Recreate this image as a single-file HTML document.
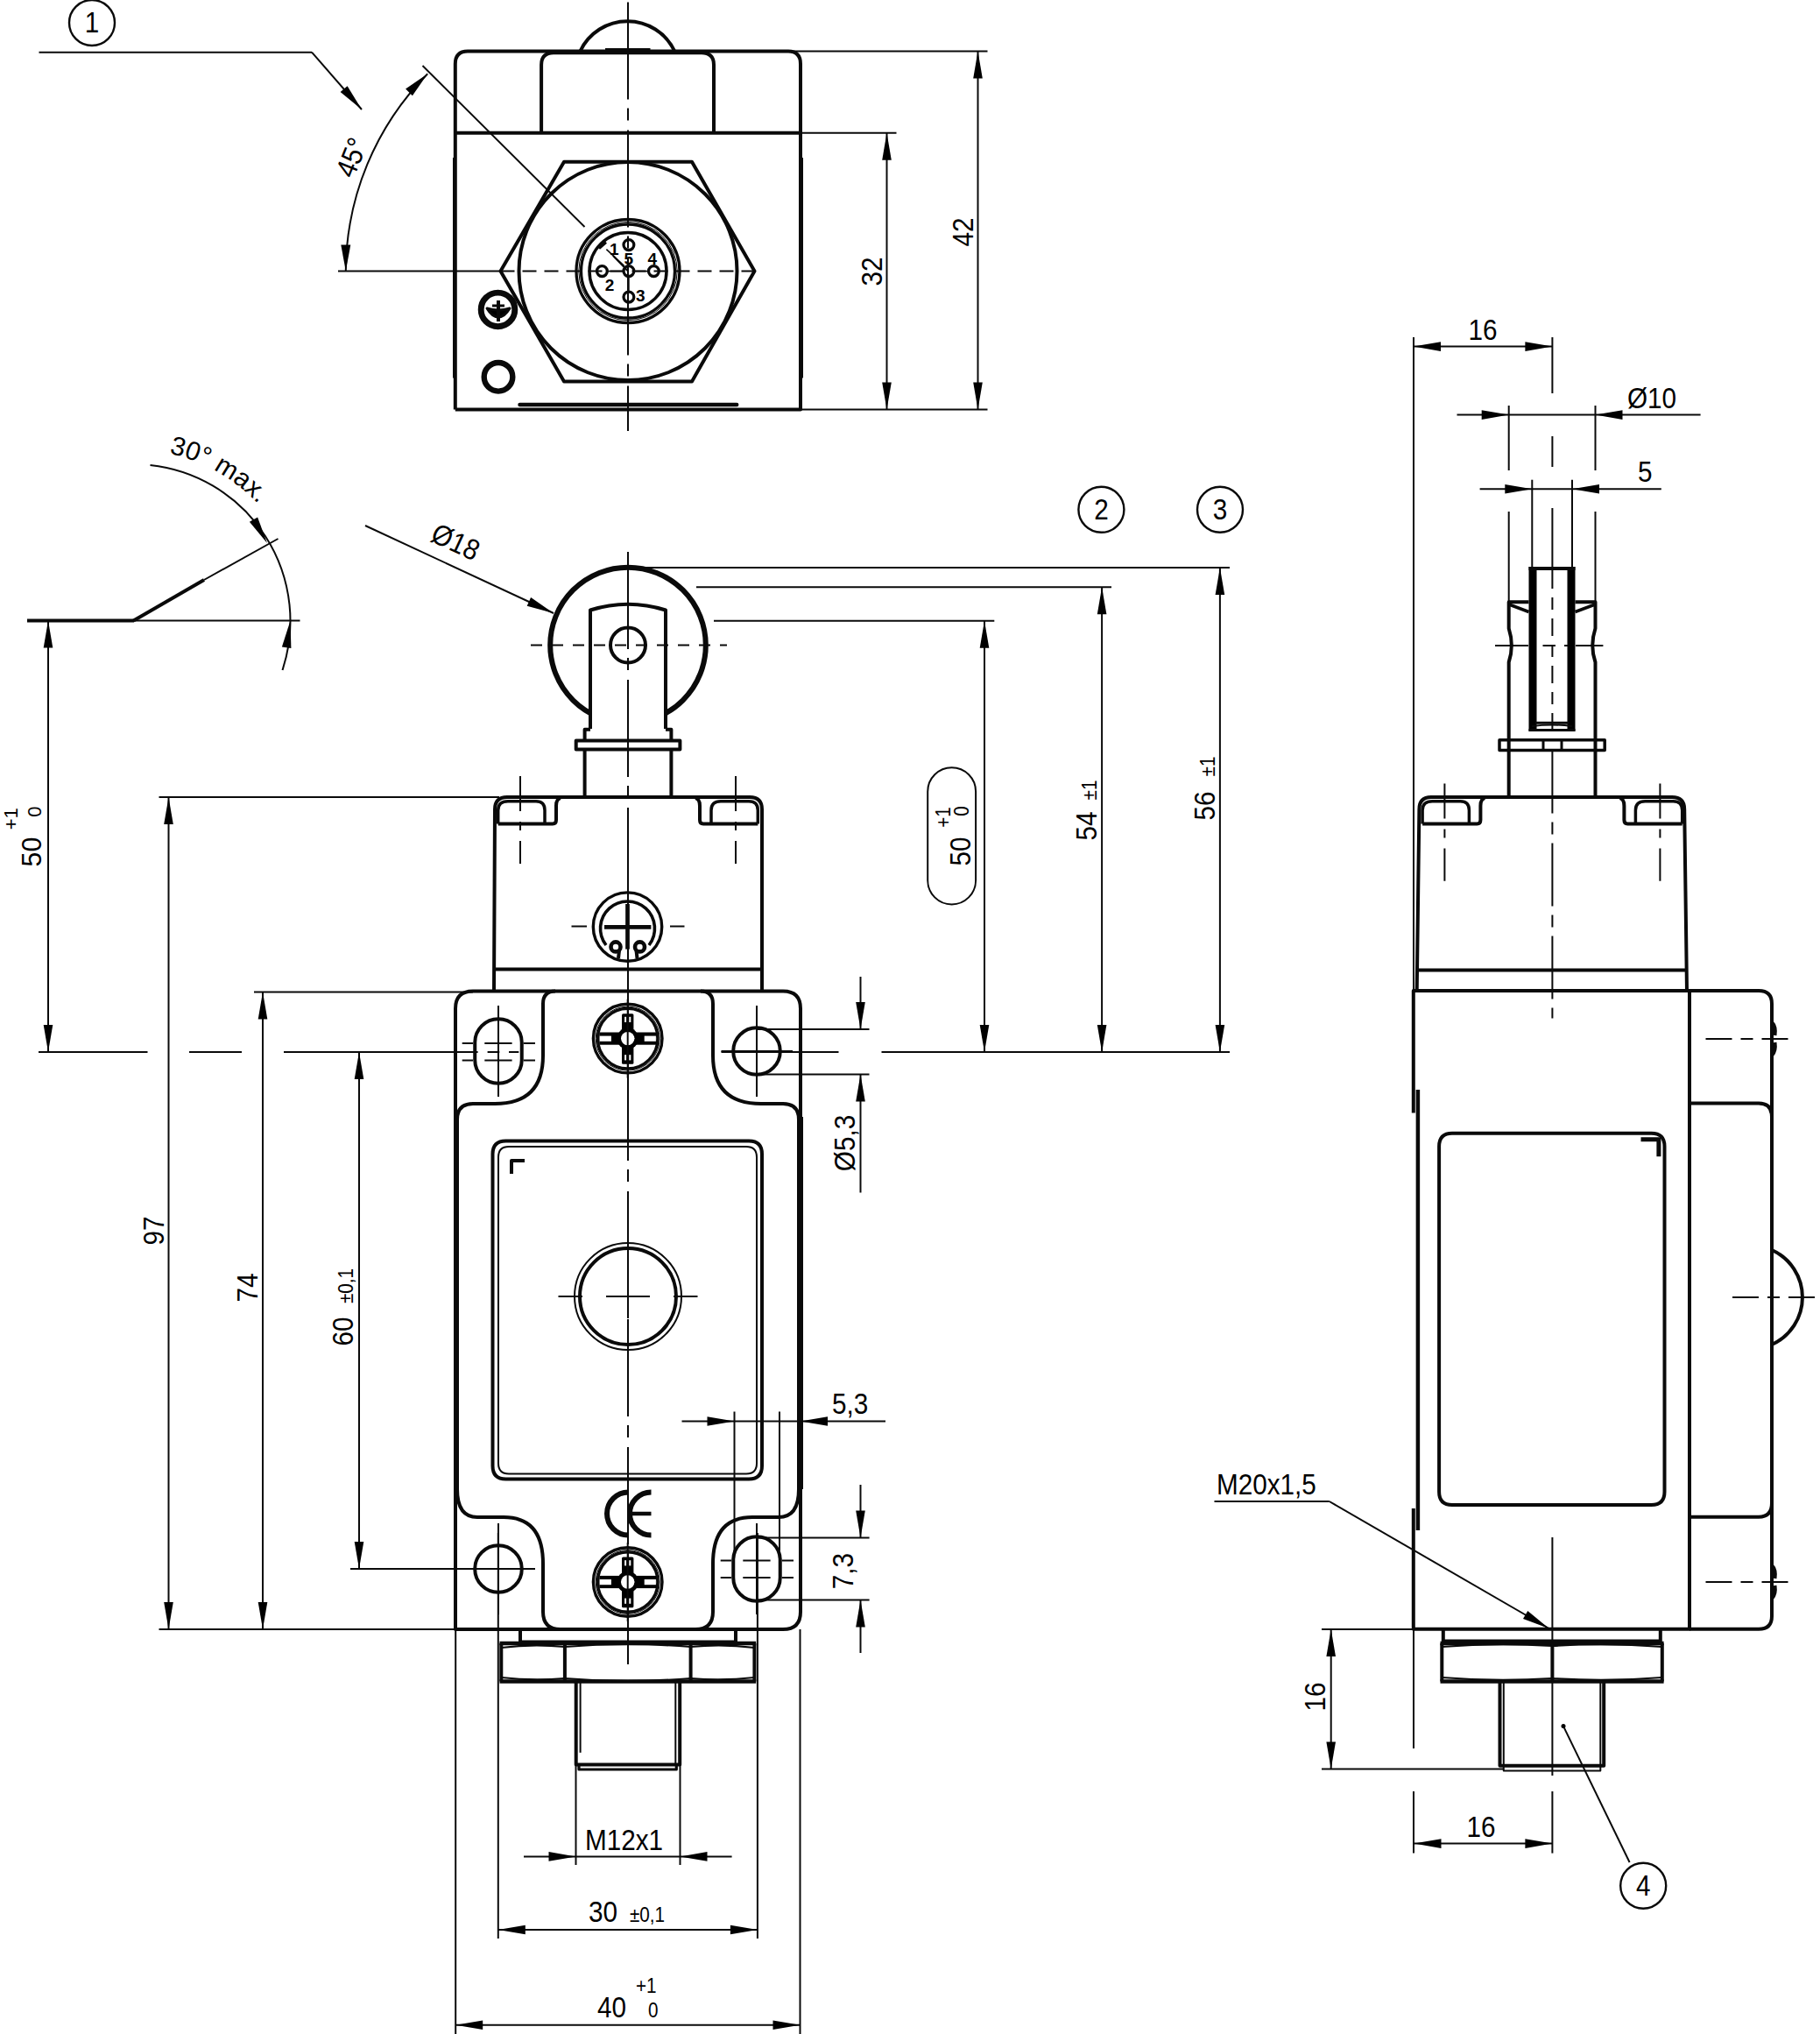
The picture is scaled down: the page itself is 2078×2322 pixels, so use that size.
<!DOCTYPE html>
<html><head><meta charset="utf-8"><style>
html,body{margin:0;padding:0;background:#fff;}
svg{display:block;}
text{font-family:"Liberation Sans",sans-serif;fill:#000;stroke:none;}
</style></head><body>
<svg width="2078" height="2322" viewBox="0 0 2078 2322" stroke="#0a0a0a" fill="none" stroke-linecap="butt" stroke-linejoin="round">
<rect x="0" y="0" width="2078" height="2322" fill="#fff" stroke="none"/>
<path d="M662.4,58.5 A59.6,59.6 0 0 1 770.3,58.5" stroke-width="4.0" fill="none" />
<line x1="691.0" y1="56.5" x2="742.5" y2="56.5" stroke-width="3" />
<path d="M519.8,467.5 L519.8,73 Q519.8,58.5 534,58.5 L900,58.5 Q914,58.5 914,73 L914,467.5 L519.8,467.5" stroke-width="4.0" fill="none" />
<path d="M618.1,151.8 L618.1,74 Q618.1,60.3 632,60.3 L801,60.3 Q815,60.3 815,74 L815,151.8" stroke-width="4.0" fill="none" />
<line x1="519.8" y1="151.8" x2="914.0" y2="151.8" stroke-width="4.0" />
<line x1="915.5" y1="180.0" x2="915.5" y2="431.5" stroke-width="3" />
<line x1="518.5" y1="180.0" x2="518.5" y2="431.5" stroke-width="3" />
<path d="M571.5,309.5 L644,184.8 L790,184.8 L861.5,309.5 L790,435.5 L644,435.5 Z" stroke-width="4.0" fill="none" />
<circle cx="717.0" cy="309.5" r="124.5" stroke-width="4.0" fill="none" />
<circle cx="717.0" cy="309.5" r="59.0" stroke-width="3.3" fill="none" />
<circle cx="717.0" cy="309.5" r="56.2" stroke-width="1" fill="none" />
<circle cx="717.0" cy="309.5" r="53.5" stroke-width="3.3" fill="none" />
<circle cx="717.0" cy="309.5" r="44.0" stroke-width="3.5" fill="none" />
<circle cx="717.9" cy="279.6" r="5.9" stroke-width="3.3" fill="none" />
<circle cx="687.4" cy="309.6" r="5.9" stroke-width="3.3" fill="none" />
<circle cx="746.4" cy="309.6" r="5.9" stroke-width="3.3" fill="none" />
<circle cx="717.9" cy="339.1" r="5.9" stroke-width="3.3" fill="none" />
<circle cx="717.9" cy="309.6" r="5.9" stroke-width="3.3" fill="none" />
<line x1="693.3" y1="309.6" x2="711.9" y2="309.6" stroke-width="1.6" />
<line x1="723.9" y1="309.6" x2="740.4" y2="309.6" stroke-width="1.6" />
<line x1="717.9" y1="315.5" x2="717.9" y2="333.2" stroke-width="1.6" />
<line x1="692.4" y1="284.6" x2="712.7" y2="303.6" stroke-width="1.6" />
<line x1="683.5" y1="283.0" x2="691.5" y2="276.0" stroke-width="4.5" />
<text transform="translate(701.3 291.0)" font-size="19" text-anchor="middle" font-weight="bold">1</text>
<text transform="translate(696.0 331.5)" font-size="19" text-anchor="middle" font-weight="bold">2</text>
<text transform="translate(731.3 344.0)" font-size="19" text-anchor="middle" font-weight="bold">3</text>
<text transform="translate(744.9 302.0)" font-size="19" text-anchor="middle" font-weight="bold">4</text>
<text transform="translate(717.7 302.0)" font-size="19" text-anchor="middle" font-weight="bold">5</text>
<circle cx="568.5" cy="353.4" r="19.3" stroke-width="6.9" fill="none" />
<path d="M556,352 Q569,356 582,352 Q576,362 569,362 Q562,362 556,352 Z" stroke-width="3" fill="#000" />
<line x1="569.0" y1="343.0" x2="569.0" y2="367.0" stroke-width="4" />
<line x1="562.0" y1="349.0" x2="576.0" y2="349.0" stroke-width="3" />
<circle cx="569.0" cy="430.3" r="16.3" stroke-width="6.4" fill="none" />
<line x1="593.5" y1="461.9" x2="841.2" y2="461.9" stroke-width="4.5" stroke-linecap="round"/>
<line x1="717.0" y1="2.4" x2="717.0" y2="492.0" stroke-width="2.0" stroke-dasharray="111 10 14 11" stroke-dashoffset="0"/>
<line x1="386.0" y1="309.5" x2="571.5" y2="309.5" stroke-width="2.0" />
<line x1="571.5" y1="309.5" x2="867.0" y2="309.5" stroke-width="2.0" stroke-dasharray="16 9" stroke-dashoffset="0"/>
<path d="M394.8,309.5 A322,322 0 0 1 488.2,84.2" stroke-width="2.0" fill="none" />
<path d="M394.8,309.5 L389.3,279.5 L400.3,279.5 Z" fill="#000" stroke="none"/>
<path d="M488.2,84.2 L470.9,109.3 L463.1,101.5 Z" fill="#000" stroke="none"/>
<text transform="translate(412.0 184.0) rotate(-68) scale(0.9 1)" font-size="33" text-anchor="middle" >45°</text>
<line x1="482.5" y1="75.0" x2="667.5" y2="259.0" stroke-width="2.0" />
<line x1="700.0" y1="292.0" x2="717.0" y2="309.5" stroke-width="2.0" />
<line x1="44.5" y1="59.7" x2="356.0" y2="59.7" stroke-width="2.0" />
<line x1="356.0" y1="59.7" x2="413.0" y2="125.0" stroke-width="2.0" />
<path d="M413.0,125.0 L388.6,105.1 L396.6,98.2 Z" fill="#000" stroke="none"/>
<circle cx="105.0" cy="26.0" r="26.0" stroke-width="2.4" fill="none" />
<text transform="translate(105.0 37.0) scale(0.9 1)" font-size="33" text-anchor="middle" >1</text>
<line x1="914.0" y1="151.8" x2="1023.5" y2="151.8" stroke-width="2.0" />
<line x1="900.0" y1="58.5" x2="1127.5" y2="58.5" stroke-width="2.0" />
<line x1="914.0" y1="467.5" x2="1127.5" y2="467.5" stroke-width="2.0" />
<line x1="1012.5" y1="151.8" x2="1012.5" y2="467.5" stroke-width="2.0" />
<path d="M1012.5,151.8 L1017.8,182.8 L1007.2,182.8 Z" fill="#000" stroke="none"/>
<path d="M1012.5,467.5 L1007.2,436.5 L1017.8,436.5 Z" fill="#000" stroke="none"/>
<line x1="1116.5" y1="58.5" x2="1116.5" y2="467.5" stroke-width="2.0" />
<path d="M1116.5,58.5 L1121.8,89.5 L1111.2,89.5 Z" fill="#000" stroke="none"/>
<path d="M1116.5,467.5 L1111.2,436.5 L1121.8,436.5 Z" fill="#000" stroke="none"/>
<text transform="translate(1007.0 310.0) rotate(-90) scale(0.9 1)" font-size="33" text-anchor="middle" >32</text>
<text transform="translate(1111.0 265.0) rotate(-90) scale(0.9 1)" font-size="33" text-anchor="middle" >42</text>
<circle cx="717.0" cy="736.5" r="88.8" stroke-width="6" fill="none" />
<path d="M674,832 L674,696.5 Q717,683 760,696.5 L760,832" stroke-width="4.0" fill="#fff" />
<circle cx="717.0" cy="736.5" r="20.0" stroke-width="4.0" fill="none" />
<path d="M674,832.7 L667.6,832.7 L667.6,845.5 M760,832.7 L766.4,832.7 L766.4,845.5" stroke-width="4.0" fill="none" />
<path d="M657.7,845.5 L776.4,845.5 L776.4,855.4 L657.7,855.4 Z" stroke-width="4.0" fill="none" />
<path d="M667.6,855.4 L667.6,910 M766.4,855.4 L766.4,910" stroke-width="4.0" fill="none" />
<line x1="717.0" y1="630.0" x2="717.0" y2="1900.0" stroke-width="2.0" stroke-dasharray="111 10 14 11" stroke-dashoffset="0"/>
<line x1="606.0" y1="736.5" x2="830.0" y2="736.5" stroke-width="2.0" stroke-dasharray="13 11" stroke-dashoffset="0"/>
<path d="M564,1131.5 L565,924 Q565,910 579,910 L856,910 Q870,910 870,924 L870,1131.5" stroke-width="4.0" fill="none" />
<line x1="564.0" y1="1106.5" x2="870.0" y2="1106.5" stroke-width="4.0" />
<path d="M568.7,940.5 L631,940.5 Q635,940.5 635,936 L635,920 Q635,912 640,911" stroke-width="4.0" fill="none" />
<path d="M865.3,940.5 L803,940.5 Q799,940.5 799,936 L799,920 Q799,912 794,911" stroke-width="4.0" fill="none" />
<path d="M568.7,940.5 L568.7,925 Q568.7,914.8 580,914.8 L612,914.8 Q622,914.8 622,925 L622,940.5" stroke-width="3.5" fill="none" />
<path d="M812,940.5 L812,925 Q812,914.8 823,914.8 L855,914.8 Q865.3,914.8 865.3,925 L865.3,940.5" stroke-width="3.5" fill="none" />
<line x1="594.0" y1="886.0" x2="594.0" y2="986.0" stroke-width="2.0" stroke-dasharray="40 12 10 12" stroke-dashoffset="0"/>
<line x1="840.0" y1="886.0" x2="840.0" y2="986.0" stroke-width="2.0" stroke-dasharray="40 12 10 12" stroke-dashoffset="0"/>
<circle cx="716.5" cy="1058.1" r="39.2" stroke-width="3.4" fill="none" />
<path d="M692,1079 A31,31 0 1 1 741,1079" stroke-width="3.6" fill="none" />
<circle cx="703.0" cy="1080.9" r="5.5" stroke-width="4.6" fill="none" />
<circle cx="730.5" cy="1080.9" r="5.5" stroke-width="4.6" fill="none" />
<line x1="707.0" y1="1085.0" x2="706.0" y2="1094.0" stroke-width="4" />
<line x1="726.5" y1="1085.0" x2="727.5" y2="1094.0" stroke-width="4" />
<line x1="690.0" y1="1058.4" x2="743.4" y2="1058.4" stroke-width="4.7" />
<line x1="716.5" y1="1032.0" x2="716.5" y2="1083.6" stroke-width="4.7" />
<line x1="652.5" y1="1057.5" x2="670.0" y2="1057.5" stroke-width="2.0" />
<line x1="765.0" y1="1057.5" x2="781.5" y2="1057.5" stroke-width="2.0" />
<path d="M520,1860 L520,1151.5 Q520,1131.5 540,1131.5 L894,1131.5 Q914,1131.5 914,1151.5 L914,1840 Q914,1860 894,1860 Z" stroke-width="4.0" fill="none" />
<path d="M634,1131.5 Q620,1131.5 620,1146 L620,1205 Q620,1260 565,1260 L540,1260 Q522,1260 522,1278 L522,1700 Q522,1732 545,1732 L575,1732 Q620,1732 620,1785 L620,1840 Q620,1860 640,1860" stroke-width="4.0" fill="none" />
<path d="M800,1131.5 Q814,1131.5 814,1146 L814,1205 Q814,1260 869,1260 L894,1260 Q912,1260 912,1278 L912,1700 Q912,1732 889,1732 L859,1732 Q814,1732 814,1785 L814,1840 Q814,1860 794,1860" stroke-width="4.0" fill="none" />
<path d="M542.25,1190 A26.75,26.75 0 0 1 595.75,1190 L595.75,1210 A26.75,26.75 0 0 1 542.25,1210 Z" stroke-width="4.0" fill="none" />
<circle cx="864.0" cy="1200.0" r="26.8" stroke-width="4.0" fill="none" />
<circle cx="569.0" cy="1791.0" r="26.8" stroke-width="4.0" fill="none" />
<path d="M837.25,1781 A26.75,26.75 0 0 1 890.75,1781 L890.75,1801 A26.75,26.75 0 0 1 837.25,1801 Z" stroke-width="4.0" fill="none" />
<line x1="569.0" y1="1148.0" x2="569.0" y2="1252.0" stroke-width="2.0" />
<line x1="864.0" y1="1148.0" x2="864.0" y2="1252.0" stroke-width="2.0" />
<line x1="569.0" y1="1739.0" x2="569.0" y2="1843.0" stroke-width="2.0" />
<line x1="864.0" y1="1739.0" x2="864.0" y2="1843.0" stroke-width="2.0" />
<line x1="527.7" y1="1191.0" x2="540.0" y2="1191.0" stroke-width="2.0" />
<line x1="553.3" y1="1191.0" x2="584.6" y2="1191.0" stroke-width="2.0" />
<line x1="597.8" y1="1191.0" x2="611.0" y2="1191.0" stroke-width="2.0" />
<line x1="527.7" y1="1210.5" x2="540.0" y2="1210.5" stroke-width="2.0" />
<line x1="553.3" y1="1210.5" x2="584.6" y2="1210.5" stroke-width="2.0" />
<line x1="597.8" y1="1210.5" x2="611.0" y2="1210.5" stroke-width="2.0" />
<line x1="822.7" y1="1781.5" x2="835.0" y2="1781.5" stroke-width="2.0" />
<line x1="848.3" y1="1781.5" x2="879.6" y2="1781.5" stroke-width="2.0" />
<line x1="892.8" y1="1781.5" x2="906.0" y2="1781.5" stroke-width="2.0" />
<line x1="822.7" y1="1801.0" x2="835.0" y2="1801.0" stroke-width="2.0" />
<line x1="848.3" y1="1801.0" x2="879.6" y2="1801.0" stroke-width="2.0" />
<line x1="892.8" y1="1801.0" x2="906.0" y2="1801.0" stroke-width="2.0" />
<line x1="823.5" y1="1200.0" x2="905.0" y2="1200.0" stroke-width="2.0" />
<line x1="527.0" y1="1791.0" x2="611.0" y2="1791.0" stroke-width="2.0" />
<circle cx="716.7" cy="1185.6" r="39.3" stroke-width="3.4" fill="none" />
<circle cx="716.7" cy="1185.6" r="36.5" stroke-width="1" fill="none" />
<circle cx="716.7" cy="1185.6" r="34.3" stroke-width="3.4" fill="none" />
<rect x="710.0" y="1157.1999999999998" width="13.4" height="57.6" rx="1.5" fill="#000" stroke="none"/>
<rect x="684.3000000000001" y="1178.5" width="65" height="14.2" fill="#000" stroke="none"/>
<circle cx="716.7" cy="1185.6" r="12.3" stroke-width="0" fill="#000" />
<circle cx="716.7" cy="1185.6" r="7.7" stroke-width="0" fill="#fff" />
<rect x="684.7" y="1182.6" width="13.2" height="6.2" fill="#fff" stroke="none"/>
<rect x="735.7" y="1182.6" width="13.2" height="6.2" fill="#fff" stroke="none"/>
<rect x="713.1" y="1160.8" width="2" height="6.2" fill="#fff" stroke="none"/>
<rect x="718.3000000000001" y="1160.8" width="2" height="6.2" fill="#fff" stroke="none"/>
<rect x="713.1" y="1204.1999999999998" width="2" height="6.2" fill="#fff" stroke="none"/>
<rect x="718.3000000000001" y="1204.1999999999998" width="2" height="6.2" fill="#fff" stroke="none"/>
<line x1="709.0" y1="1185.6" x2="714.7" y2="1185.6" stroke-width="1" stroke="#fff"/>
<line x1="718.7" y1="1185.6" x2="724.4" y2="1185.6" stroke-width="1" stroke="#fff"/>
<line x1="716.7" y1="1140.6" x2="716.7" y2="1230.6" stroke-width="2" />
<circle cx="716.7" cy="1806.0" r="39.3" stroke-width="3.4" fill="none" />
<circle cx="716.7" cy="1806.0" r="36.5" stroke-width="1" fill="none" />
<circle cx="716.7" cy="1806.0" r="34.3" stroke-width="3.4" fill="none" />
<rect x="710.0" y="1777.6" width="13.4" height="57.6" rx="1.5" fill="#000" stroke="none"/>
<rect x="684.3000000000001" y="1798.9" width="65" height="14.2" fill="#000" stroke="none"/>
<circle cx="716.7" cy="1806.0" r="12.3" stroke-width="0" fill="#000" />
<circle cx="716.7" cy="1806.0" r="7.7" stroke-width="0" fill="#fff" />
<rect x="684.7" y="1803" width="13.2" height="6.2" fill="#fff" stroke="none"/>
<rect x="735.7" y="1803" width="13.2" height="6.2" fill="#fff" stroke="none"/>
<rect x="713.1" y="1781.2" width="2" height="6.2" fill="#fff" stroke="none"/>
<rect x="718.3000000000001" y="1781.2" width="2" height="6.2" fill="#fff" stroke="none"/>
<rect x="713.1" y="1824.6" width="2" height="6.2" fill="#fff" stroke="none"/>
<rect x="718.3000000000001" y="1824.6" width="2" height="6.2" fill="#fff" stroke="none"/>
<line x1="709.0" y1="1806.0" x2="714.7" y2="1806.0" stroke-width="1" stroke="#fff"/>
<line x1="718.7" y1="1806.0" x2="724.4" y2="1806.0" stroke-width="1" stroke="#fff"/>
<line x1="716.7" y1="1761.0" x2="716.7" y2="1851.0" stroke-width="2" />
<path d="M577.5,1302.5 L855,1302.5 Q870,1302.5 870,1317.5 L870,1673.5 Q870,1688.5 855,1688.5 L577.5,1688.5 Q562.5,1688.5 562.5,1673.5 L562.5,1317.5 Q562.5,1302.5 577.5,1302.5 Z" stroke-width="4.0" fill="none" />
<path d="M581,1309 L852,1309 Q864,1309 864,1321 L864,1670.5 Q864,1682.5 852,1682.5 L581,1682.5 Q569,1682.5 569,1670.5 L569,1321 Q569,1309 581,1309 Z" stroke-width="2.0" fill="none" />
<path d="M584,1340 L584,1325 L599,1325" stroke-width="4" fill="none" />
<circle cx="717.0" cy="1480.0" r="61.0" stroke-width="2.0" fill="none" />
<circle cx="717.0" cy="1480.0" r="55.0" stroke-width="4.0" fill="none" />
<line x1="637.5" y1="1480.0" x2="665.0" y2="1480.0" stroke-width="2.0" />
<line x1="692.0" y1="1480.0" x2="742.0" y2="1480.0" stroke-width="2.0" />
<line x1="769.0" y1="1480.0" x2="796.5" y2="1480.0" stroke-width="2.0" />
<line x1="717.0" y1="1455.0" x2="717.0" y2="1505.0" stroke-width="2.0" />
<path d="M717.5,1703.5 A24.5,24.5 0 0 0 717.5,1752.5" stroke-width="6" fill="none" />
<path d="M743.5,1703.5 A24.5,24.5 0 0 0 743.5,1752.5" stroke-width="6" fill="none" />
<line x1="720.0" y1="1728.0" x2="743.5" y2="1728.0" stroke-width="4.5" />
<line x1="915.5" y1="1275.0" x2="915.5" y2="1700.0" stroke-width="3" />
<path d="M594,1860 L594,1876 M840,1860 L840,1876" stroke-width="4.0" fill="none" />
<line x1="570.5" y1="1876.0" x2="863.2" y2="1876.0" stroke-width="4.5" />
<line x1="570.5" y1="1919.5" x2="863.2" y2="1919.5" stroke-width="4.5" />
<line x1="572.3" y1="1876.0" x2="572.3" y2="1919.5" stroke-width="4" />
<line x1="861.4" y1="1876.0" x2="861.4" y2="1919.5" stroke-width="4" />
<path d="M572.3,1881 Q608,1876.5 644.9,1880 Q716.5,1874 788.6,1880 Q825,1876.5 861.4,1881" stroke-width="2.2" fill="none" />
<path d="M572.3,1915 Q608,1919 644.9,1916 Q716.5,1922 788.6,1916 Q825,1919 861.4,1915" stroke-width="2.2" fill="none" />
<line x1="594.0" y1="1874.5" x2="840.4" y2="1874.5" stroke-width="4.0" />
<line x1="644.9" y1="1877.0" x2="644.9" y2="1919.0" stroke-width="4.0" />
<line x1="788.6" y1="1877.0" x2="788.6" y2="1919.0" stroke-width="4.0" />
<path d="M657.7,1920 L657.7,2014.5 L776.2,2014.5 L776.2,1920" stroke-width="4.0" fill="none" />
<path d="M661,2015.4 L661,2020 L772.3,2020 L772.3,2015.4" stroke-width="3.2" fill="none" />
<line x1="662.6" y1="1920.0" x2="662.6" y2="2000.8" stroke-width="2.0" />
<line x1="771.3" y1="1920.0" x2="771.3" y2="2014.5" stroke-width="2.0" />
<line x1="31.0" y1="708.5" x2="153.0" y2="708.5" stroke-width="4.0" />
<line x1="153.0" y1="708.5" x2="342.5" y2="708.5" stroke-width="2.0" />
<line x1="152.5" y1="708.5" x2="233.0" y2="662.0" stroke-width="4.0" />
<line x1="233.0" y1="662.0" x2="317.5" y2="615.0" stroke-width="2.0" />
<path d="M171.5,531 A179,179 0 0 1 322.5,765" stroke-width="2.0" fill="none" />
<path d="M305.0,620.0 L284.9,595.8 L294.1,590.5 Z" fill="#000" stroke="none"/>
<path d="M331.5,708.5 L332.4,739.9 L321.9,738.5 Z" fill="#000" stroke="none"/>
<path id="arc30" d="M193,517.8 A195,195 0 0 1 335.7,641.8" stroke="none"/>
<text font-size="30"><textPath href="#arc30">30° max.</textPath></text>
<line x1="55.0" y1="708.5" x2="55.0" y2="1201.0" stroke-width="2.0" />
<path d="M55.0,708.5 L60.3,739.5 L49.7,739.5 Z" fill="#000" stroke="none"/>
<path d="M55.0,1201.0 L49.7,1170.0 L60.3,1170.0 Z" fill="#000" stroke="none"/>
<text transform="translate(47.3 972.6) rotate(-90) scale(0.95 1)" font-size="32" text-anchor="middle" >50</text>
<text transform="translate(20.1 934.8) rotate(-90)" font-size="22" text-anchor="middle" >+1</text>
<text transform="translate(47.3 926.5) rotate(-90)" font-size="22" text-anchor="middle" >0</text>
<line x1="44.0" y1="1201.0" x2="168.5" y2="1201.0" stroke-width="2.0" />
<line x1="216.0" y1="1201.0" x2="276.0" y2="1201.0" stroke-width="2.0" />
<line x1="324.0" y1="1201.0" x2="545.6" y2="1201.0" stroke-width="2.0" />
<line x1="556.6" y1="1201.0" x2="570.3" y2="1201.0" stroke-width="2.0" />
<line x1="581.0" y1="1201.0" x2="592.3" y2="1201.0" stroke-width="2.0" />
<line x1="1006.5" y1="1201.0" x2="1404.0" y2="1201.0" stroke-width="2.0" />
<line x1="823.5" y1="1201.0" x2="957.5" y2="1201.0" stroke-width="2.0" />
<line x1="417.0" y1="600.0" x2="632.0" y2="700.0" stroke-width="2.0" />
<path d="M632.0,700.0 L601.7,691.7 L606.1,682.1 Z" fill="#000" stroke="none"/>
<text transform="translate(490.0 617.0) rotate(25) scale(0.9 1)" font-size="33" text-anchor="start" >Ø18</text>
<line x1="716.0" y1="648.0" x2="1404.0" y2="648.0" stroke-width="2.0" />
<line x1="795.0" y1="670.2" x2="1269.0" y2="670.2" stroke-width="2.0" />
<line x1="815.0" y1="708.8" x2="1135.3" y2="708.8" stroke-width="2.0" />
<line x1="1124.0" y1="708.8" x2="1124.0" y2="1201.0" stroke-width="2.0" />
<path d="M1124.0,708.8 L1129.3,739.8 L1118.7,739.8 Z" fill="#000" stroke="none"/>
<path d="M1124.0,1201.0 L1118.7,1170.0 L1129.3,1170.0 Z" fill="#000" stroke="none"/>
<line x1="1258.1" y1="670.2" x2="1258.1" y2="1201.0" stroke-width="2.0" />
<path d="M1258.1,670.2 L1263.4,701.2 L1252.8,701.2 Z" fill="#000" stroke="none"/>
<path d="M1258.1,1201.0 L1252.8,1170.0 L1263.4,1170.0 Z" fill="#000" stroke="none"/>
<line x1="1392.9" y1="648.0" x2="1392.9" y2="1201.0" stroke-width="2.0" />
<path d="M1392.9,648.0 L1398.2,679.0 L1387.6,679.0 Z" fill="#000" stroke="none"/>
<path d="M1392.9,1201.0 L1387.6,1170.0 L1398.2,1170.0 Z" fill="#000" stroke="none"/>
<path d="M1059.2,903.7 A27.45,27.45 0 0 1 1114.1,903.7 L1114.1,1005 A27.45,27.45 0 0 1 1059.2,1005 Z" stroke-width="2.0" fill="none" />
<text transform="translate(1108.0 972.0) rotate(-90) scale(0.9 1)" font-size="33" text-anchor="middle" >50</text>
<text transform="translate(1085.0 933.0) rotate(-90) scale(0.9 1)" font-size="23" text-anchor="middle" >+1</text>
<text transform="translate(1106.0 926.0) rotate(-90) scale(0.9 1)" font-size="23" text-anchor="middle" >0</text>
<text transform="translate(1252.0 943.0) rotate(-90) scale(0.9 1)" font-size="33" text-anchor="middle" >54</text>
<text transform="translate(1252.0 902.0) rotate(-90) scale(0.9 1)" font-size="23" text-anchor="middle" >±1</text>
<text transform="translate(1387.0 920.0) rotate(-90) scale(0.9 1)" font-size="33" text-anchor="middle" >56</text>
<text transform="translate(1387.0 875.0) rotate(-90) scale(0.9 1)" font-size="23" text-anchor="middle" >±1</text>
<circle cx="1257.4" cy="581.8" r="26.0" stroke-width="2.4" fill="none" />
<text transform="translate(1257.4 592.8) scale(0.9 1)" font-size="33" text-anchor="middle" >2</text>
<circle cx="1393.0" cy="581.8" r="26.0" stroke-width="2.4" fill="none" />
<text transform="translate(1393.0 592.8) scale(0.9 1)" font-size="33" text-anchor="middle" >3</text>
<line x1="181.5" y1="910.0" x2="570.0" y2="910.0" stroke-width="2.0" />
<line x1="290.0" y1="1132.5" x2="540.0" y2="1132.5" stroke-width="2.0" />
<line x1="400.0" y1="1791.0" x2="541.5" y2="1791.0" stroke-width="2.0" />
<line x1="181.5" y1="1860.0" x2="520.0" y2="1860.0" stroke-width="2.0" />
<line x1="192.5" y1="910.0" x2="192.5" y2="1860.0" stroke-width="2.0" />
<path d="M192.5,910.0 L197.8,941.0 L187.2,941.0 Z" fill="#000" stroke="none"/>
<path d="M192.5,1860.0 L187.2,1829.0 L197.8,1829.0 Z" fill="#000" stroke="none"/>
<line x1="300.0" y1="1132.5" x2="300.0" y2="1860.0" stroke-width="2.0" />
<path d="M300.0,1132.5 L305.3,1163.5 L294.7,1163.5 Z" fill="#000" stroke="none"/>
<path d="M300.0,1860.0 L294.7,1829.0 L305.3,1829.0 Z" fill="#000" stroke="none"/>
<line x1="410.0" y1="1201.0" x2="410.0" y2="1791.0" stroke-width="2.0" />
<path d="M410.0,1201.0 L415.3,1232.0 L404.7,1232.0 Z" fill="#000" stroke="none"/>
<path d="M410.0,1791.0 L404.7,1760.0 L415.3,1760.0 Z" fill="#000" stroke="none"/>
<text transform="translate(187.0 1405.0) rotate(-90) scale(0.9 1)" font-size="33" text-anchor="middle" >97</text>
<text transform="translate(294.0 1470.0) rotate(-90) scale(0.9 1)" font-size="33" text-anchor="middle" >74</text>
<text transform="translate(403.0 1520.0) rotate(-90) scale(0.9 1)" font-size="33" text-anchor="middle" >60</text>
<text transform="translate(403.0 1468.0) rotate(-90) scale(0.9 1)" font-size="23" text-anchor="middle" >±0,1</text>
<line x1="865.0" y1="1175.0" x2="992.5" y2="1175.0" stroke-width="2.0" />
<line x1="865.0" y1="1226.5" x2="992.5" y2="1226.5" stroke-width="2.0" />
<line x1="982.5" y1="1115.0" x2="982.5" y2="1175.0" stroke-width="2.0" />
<path d="M982.5,1175.0 L977.2,1144.0 L987.8,1144.0 Z" fill="#000" stroke="none"/>
<line x1="982.5" y1="1226.5" x2="982.5" y2="1361.5" stroke-width="2.0" />
<path d="M982.5,1226.5 L987.8,1257.5 L977.2,1257.5 Z" fill="#000" stroke="none"/>
<text transform="translate(976.0 1305.0) rotate(-90) scale(0.9 1)" font-size="33" text-anchor="middle" >Ø5,3</text>
<line x1="865.6" y1="1755.6" x2="992.6" y2="1755.6" stroke-width="2.0" />
<line x1="865.6" y1="1826.5" x2="992.6" y2="1826.5" stroke-width="2.0" />
<line x1="982.5" y1="1695.0" x2="982.5" y2="1755.6" stroke-width="2.0" />
<path d="M982.5,1755.6 L977.2,1724.6 L987.8,1724.6 Z" fill="#000" stroke="none"/>
<line x1="982.5" y1="1826.5" x2="982.5" y2="1887.0" stroke-width="2.0" />
<path d="M982.5,1826.5 L987.8,1857.5 L977.2,1857.5 Z" fill="#000" stroke="none"/>
<text transform="translate(974.0 1793.5) rotate(-90) scale(0.9 1)" font-size="33" text-anchor="middle" >7,3</text>
<line x1="838.5" y1="1611.5" x2="838.5" y2="1772.0" stroke-width="2.0" />
<line x1="890.0" y1="1611.5" x2="890.0" y2="1770.0" stroke-width="2.0" />
<line x1="778.5" y1="1622.5" x2="1011.0" y2="1622.5" stroke-width="2.0" />
<path d="M838.5,1622.5 L807.5,1627.8 L807.5,1617.2 Z" fill="#000" stroke="none"/>
<path d="M914.0,1622.5 L945.0,1617.2 L945.0,1627.8 Z" fill="#000" stroke="none"/>
<text transform="translate(950.0 1614.0) scale(0.9 1)" font-size="33" text-anchor="start" >5,3</text>
<line x1="657.5" y1="2015.0" x2="657.5" y2="2129.0" stroke-width="2.0" />
<line x1="776.5" y1="2015.0" x2="776.5" y2="2129.0" stroke-width="2.0" />
<line x1="598.0" y1="2119.4" x2="835.6" y2="2119.4" stroke-width="2.0" />
<path d="M657.5,2119.4 L626.5,2124.7 L626.5,2114.1 Z" fill="#000" stroke="none"/>
<path d="M776.5,2119.4 L807.5,2114.1 L807.5,2124.7 Z" fill="#000" stroke="none"/>
<text transform="translate(668.0 2112.0) scale(0.9 1)" font-size="33" text-anchor="start" >M12x1</text>
<line x1="568.8" y1="1750.0" x2="568.8" y2="2213.0" stroke-width="2.0" />
<line x1="864.9" y1="1750.0" x2="864.9" y2="2213.0" stroke-width="2.0" />
<line x1="568.8" y1="2203.0" x2="864.9" y2="2203.0" stroke-width="2.0" />
<path d="M568.8,2203.0 L599.8,2197.7 L599.8,2208.3 Z" fill="#000" stroke="none"/>
<path d="M864.9,2203.0 L833.9,2208.3 L833.9,2197.7 Z" fill="#000" stroke="none"/>
<text transform="translate(672.0 2194.0) scale(0.9 1)" font-size="33" text-anchor="start" >30</text>
<text transform="translate(719.0 2194.0) scale(0.9 1)" font-size="23" text-anchor="start" >±0,1</text>
<line x1="520.2" y1="1860.0" x2="520.2" y2="2322.0" stroke-width="2.0" />
<line x1="913.5" y1="1860.0" x2="913.5" y2="2322.0" stroke-width="2.0" />
<line x1="520.2" y1="2311.7" x2="913.5" y2="2311.7" stroke-width="2.0" />
<path d="M520.2,2311.7 L551.2,2306.4 L551.2,2317.0 Z" fill="#000" stroke="none"/>
<path d="M913.5,2311.7 L882.5,2317.0 L882.5,2306.4 Z" fill="#000" stroke="none"/>
<text transform="translate(682.0 2303.0) scale(0.9 1)" font-size="33" text-anchor="start" >40</text>
<text transform="translate(726.0 2275.0) scale(0.9 1)" font-size="23" text-anchor="start" >+1</text>
<text transform="translate(740.0 2303.0) scale(0.9 1)" font-size="23" text-anchor="start" >0</text>
<line x1="1614.0" y1="385.0" x2="1614.0" y2="1131.0" stroke-width="2.0" />
<line x1="1614.0" y1="1722.0" x2="1614.0" y2="1996.0" stroke-width="2.0" />
<line x1="1614.0" y1="2045.0" x2="1614.0" y2="2115.6" stroke-width="2.0" />
<line x1="1772.4" y1="385.0" x2="1772.4" y2="449.0" stroke-width="2.0" />
<line x1="1772.4" y1="498.0" x2="1772.4" y2="533.0" stroke-width="2.0" />
<line x1="1772.4" y1="580.0" x2="1772.4" y2="652.0" stroke-width="2.0" />
<line x1="1772.4" y1="856.5" x2="1772.4" y2="1162.4" stroke-width="2.0" stroke-dasharray="72 10 14 10" stroke-dashoffset="0"/>
<line x1="1614.0" y1="395.6" x2="1772.4" y2="395.6" stroke-width="2.0" />
<path d="M1614.0,395.6 L1645.0,390.3 L1645.0,400.9 Z" fill="#000" stroke="none"/>
<path d="M1772.4,395.6 L1741.4,400.9 L1741.4,390.3 Z" fill="#000" stroke="none"/>
<text transform="translate(1693.0 388.0) scale(0.9 1)" font-size="33" text-anchor="middle" >16</text>
<line x1="1722.7" y1="463.0" x2="1722.7" y2="537.0" stroke-width="2.0" />
<line x1="1722.7" y1="584.0" x2="1722.7" y2="687.0" stroke-width="2.0" />
<line x1="1821.5" y1="463.0" x2="1821.5" y2="537.0" stroke-width="2.0" />
<line x1="1821.5" y1="584.0" x2="1821.5" y2="687.0" stroke-width="2.0" />
<line x1="1663.5" y1="473.6" x2="1941.6" y2="473.6" stroke-width="2.0" />
<path d="M1722.7,473.6 L1691.7,478.9 L1691.7,468.3 Z" fill="#000" stroke="none"/>
<path d="M1821.5,473.6 L1852.5,468.3 L1852.5,478.9 Z" fill="#000" stroke="none"/>
<text transform="translate(1858.0 466.0) scale(0.9 1)" font-size="33" text-anchor="start" >Ø10</text>
<line x1="1749.3" y1="547.7" x2="1749.3" y2="647.0" stroke-width="2.0" />
<line x1="1795.0" y1="547.7" x2="1795.0" y2="647.0" stroke-width="2.0" />
<line x1="1689.6" y1="558.3" x2="1896.8" y2="558.3" stroke-width="2.0" />
<path d="M1749.3,558.3 L1718.3,563.6 L1718.3,553.0 Z" fill="#000" stroke="none"/>
<path d="M1795.0,558.3 L1826.0,553.0 L1826.0,563.6 Z" fill="#000" stroke="none"/>
<text transform="translate(1870.0 550.0) scale(0.9 1)" font-size="33" text-anchor="start" >5</text>
<rect x="1745.5" y="647" width="9" height="187.7" fill="#000" stroke="none"/>
<rect x="1789.5" y="647" width="9" height="187.7" fill="#000" stroke="none"/>
<line x1="1745.5" y1="649.0" x2="1798.5" y2="649.0" stroke-width="4" />
<line x1="1753.0" y1="825.3" x2="1791.0" y2="825.3" stroke-width="3" />
<path d="M1749,829 Q1772,826 1795,829" stroke-width="2" fill="none" />
<line x1="1745.5" y1="833.5" x2="1798.5" y2="833.5" stroke-width="3" />
<line x1="1772.4" y1="652.0" x2="1772.4" y2="845.0" stroke-width="2.0" stroke-dasharray="20 10 14 10" stroke-dashoffset="0"/>
<path d="M1722.7,908.6 L1722.7,756 Q1729,737 1722.7,717.3 L1722.7,687.2 L1745.5,687.2" stroke-width="4.0" fill="none" />
<path d="M1821.5,908.6 L1821.5,756 Q1815,737 1821.5,717.3 L1821.5,687.2 L1798.5,687.2" stroke-width="4.0" fill="none" />
<line x1="1723.0" y1="690.0" x2="1745.5" y2="698.5" stroke-width="3.5" />
<line x1="1821.2" y1="690.0" x2="1798.5" y2="698.5" stroke-width="3.5" />
<line x1="1707.0" y1="737.0" x2="1745.0" y2="737.0" stroke-width="2.0" />
<line x1="1761.5" y1="737.0" x2="1776.0" y2="737.0" stroke-width="2.0" />
<line x1="1786.0" y1="737.0" x2="1790.0" y2="737.0" stroke-width="2.0" />
<line x1="1799.0" y1="737.0" x2="1830.4" y2="737.0" stroke-width="2.0" />
<path d="M1712,844.7 L1832.2,844.7 L1832.2,856.5 L1712,856.5 Z" stroke-width="3.5" fill="none" />
<line x1="1762.0" y1="845.0" x2="1762.0" y2="856.0" stroke-width="3" />
<line x1="1783.0" y1="845.0" x2="1783.0" y2="856.0" stroke-width="3" />
<path d="M1617.7,1131.1 L1620.4,924 Q1620.4,910.1 1634,910.1 L1909,910.1 Q1923.2,910.1 1923.2,924 L1926,1131.1" stroke-width="4.0" fill="none" />
<line x1="1617.7" y1="1107.6" x2="1926.0" y2="1107.6" stroke-width="4.0" />
<path d="M1624.1000000000001,940.5 L1686.4,940.5 Q1690.4,940.5 1690.4,936 L1690.4,920 Q1690.4,912 1695.4,911" stroke-width="4.0" fill="none" />
<path d="M1920.7,940.5 L1858.4,940.5 Q1854.4,940.5 1854.4,936 L1854.4,920 Q1854.4,912 1849.4,911" stroke-width="4.0" fill="none" />
<path d="M1624.1000000000001,940.5 L1624.1000000000001,925 Q1624.1000000000001,914.8 1635.4,914.8 L1667.4,914.8 Q1677.4,914.8 1677.4,925 L1677.4,940.5" stroke-width="3.5" fill="none" />
<path d="M1867.4,940.5 L1867.4,925 Q1867.4,914.8 1878.4,914.8 L1910.4,914.8 Q1920.7,914.8 1920.7,925 L1920.7,940.5" stroke-width="3.5" fill="none" />
<line x1="1649.4" y1="894.5" x2="1649.4" y2="1005.7" stroke-width="2.0" stroke-dasharray="40 12 10 12" stroke-dashoffset="0"/>
<line x1="1895.4" y1="894.5" x2="1895.4" y2="1005.7" stroke-width="2.0" stroke-dasharray="40 12 10 12" stroke-dashoffset="0"/>
<path d="M1613.8,1270.5 L1613.8,1131.1 L1929,1131.1 L1929,1859.8 L1613.8,1859.8 L1613.8,1722" stroke-width="4.0" fill="none" />
<path d="M1929,1131.1 L2008,1131.1 Q2023,1131.1 2023,1146 L2023,1845 Q2023,1859.8 2008,1859.8 L1929,1859.8" stroke-width="4.0" fill="none" />
<path d="M1929,1259.6 L2008,1259.6 Q2023,1259.6 2023,1275" stroke-width="4.0" fill="none" />
<path d="M1929,1731.7 L2008,1731.7 Q2023,1731.7 2023,1716" stroke-width="4.0" fill="none" />
<line x1="1618.9" y1="1244.0" x2="1618.9" y2="1747.0" stroke-width="4.5" />
<path d="M2023,1427 A59.2,59.2 0 0 1 2023,1535" stroke-width="4.0" fill="none" />
<line x1="1947.5" y1="1186.0" x2="2044.0" y2="1186.0" stroke-width="2.0" stroke-dasharray="30 10 14 10" stroke-dashoffset="0"/>
<path d="M2023,1167 Q2028,1172 2026.5,1182" stroke-width="4" fill="none" />
<path d="M2023,1205 Q2028,1200 2026.5,1190" stroke-width="4" fill="none" />
<path d="M2023,1787 Q2028,1792 2026.5,1802" stroke-width="4" fill="none" />
<path d="M2023,1825 Q2028,1820 2026.5,1810" stroke-width="4" fill="none" />
<line x1="1947.5" y1="1806.0" x2="2044.0" y2="1806.0" stroke-width="2.0" stroke-dasharray="30 10 14 10" stroke-dashoffset="0"/>
<line x1="1978.0" y1="1481.0" x2="2078.0" y2="1481.0" stroke-width="2.0" stroke-dasharray="30 10 14 10" stroke-dashoffset="0"/>
<path d="M1658,1293.7 L1885.5,1293.7 Q1900.5,1293.7 1900.5,1308.7 L1900.5,1703 Q1900.5,1718 1885.5,1718 L1658,1718 Q1643.1,1718 1643.1,1703 L1643.1,1308.7 Q1643.1,1293.7 1658,1293.7 Z" stroke-width="4.0" fill="none" />
<path d="M1873.5,1300.7 L1893.9,1300.7 L1893.9,1320.3" stroke-width="5" fill="none" />
<line x1="1386.5" y1="1714.0" x2="1517.8" y2="1714.0" stroke-width="2.0" />
<line x1="1517.8" y1="1714.0" x2="1768.5" y2="1859.0" stroke-width="2.0" />
<path d="M1768.5,1859.0 L1739.0,1848.1 L1744.3,1838.9 Z" fill="#000" stroke="none"/>
<text transform="translate(1389.0 1706.0) scale(0.9 1)" font-size="33" text-anchor="start" >M20x1,5</text>
<line x1="1772.4" y1="1755.0" x2="1772.4" y2="2027.0" stroke-width="2.0" />
<path d="M1647.8,1860 L1647.8,1874.7 M1895.8,1860 L1895.8,1874.7" stroke-width="4.0" fill="none" />
<line x1="1644.5" y1="1876.0" x2="1899.6" y2="1876.0" stroke-width="4.5" />
<line x1="1644.5" y1="1919.5" x2="1899.6" y2="1919.5" stroke-width="4.5" />
<line x1="1646.3" y1="1876.0" x2="1646.3" y2="1919.5" stroke-width="4" />
<line x1="1897.8" y1="1876.0" x2="1897.8" y2="1919.5" stroke-width="4" />
<path d="M1646.3,1880 Q1709,1875 1772,1879 Q1835,1875 1897.8,1880" stroke-width="2.2" fill="none" />
<path d="M1646.3,1915 Q1709,1920 1772,1916 Q1835,1920 1897.8,1915" stroke-width="2.2" fill="none" />
<line x1="1647.8" y1="1873.5" x2="1895.8" y2="1873.5" stroke-width="4.0" />
<line x1="1772.4" y1="1874.7" x2="1772.4" y2="1919.7" stroke-width="4.0" />
<path d="M1712.5,1919.7 L1712.5,2015.7 L1831.2,2015.7 L1831.2,1919.7" stroke-width="4.0" fill="none" />
<path d="M1716.8,2015.7 L1716.8,2021.6 L1827.3,2021.6 L1827.3,2015.7" stroke-width="2.0" fill="none" />
<line x1="1716.8" y1="1920.0" x2="1716.8" y2="2015.0" stroke-width="2.0" />
<line x1="1827.3" y1="1920.0" x2="1827.3" y2="2015.0" stroke-width="2.0" />
<line x1="1509.0" y1="1860.0" x2="1614.0" y2="1860.0" stroke-width="2.0" />
<line x1="1509.0" y1="2019.6" x2="1716.8" y2="2019.6" stroke-width="2.0" />
<line x1="1519.7" y1="1860.0" x2="1519.7" y2="2019.6" stroke-width="2.0" />
<path d="M1519.7,1860.0 L1525.0,1891.0 L1514.4,1891.0 Z" fill="#000" stroke="none"/>
<path d="M1519.7,2019.6 L1514.4,1988.6 L1525.0,1988.6 Z" fill="#000" stroke="none"/>
<text transform="translate(1513.0 1937.0) rotate(-90) scale(0.9 1)" font-size="33" text-anchor="middle" >16</text>
<line x1="1772.4" y1="2045.0" x2="1772.4" y2="2115.6" stroke-width="2.0" />
<line x1="1614.5" y1="2104.6" x2="1772.4" y2="2104.6" stroke-width="2.0" />
<path d="M1614.5,2104.6 L1645.5,2099.3 L1645.5,2109.9 Z" fill="#000" stroke="none"/>
<path d="M1772.4,2104.6 L1741.4,2109.9 L1741.4,2099.3 Z" fill="#000" stroke="none"/>
<text transform="translate(1691.0 2097.0) scale(0.9 1)" font-size="33" text-anchor="middle" >16</text>
<circle cx="1876.2" cy="2152.8" r="26.0" stroke-width="2.4" fill="none" />
<text transform="translate(1876.2 2163.8) scale(0.9 1)" font-size="33" text-anchor="middle" >4</text>
<line x1="1860.6" y1="2126.0" x2="1785.0" y2="1970.6" stroke-width="2.0" />
<circle cx="1785.0" cy="1970.6" r="2.5" stroke-width="0" fill="#000" />
</svg></body></html>
